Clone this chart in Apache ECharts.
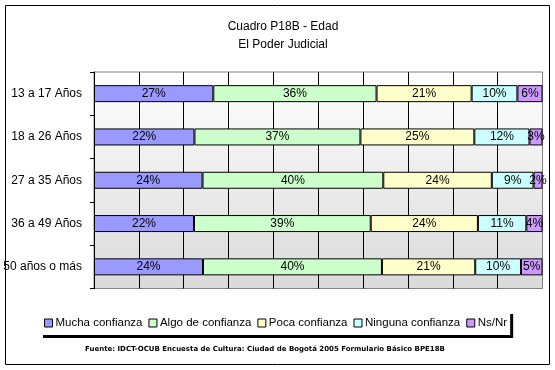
<!DOCTYPE html>
<html>
<head>
<meta charset="utf-8">
<script src="https://cdn.jsdelivr.net/npm/echarts@6/dist/echarts.min.js"></script>
<style>html,body{margin:0;padding:0;background:#fff}#c{width:555px;height:370px}</style>
</head>
<body>
<div id="c"></div>
<script>
var categories = ['13 a 17 Años', '18 a 26 Años', '27 a 35 Años', '36 a 49 Años', '50 años o más'];
var seriesNames = ['Mucha confianza', 'Algo de confianza', 'Poca confianza', 'Ninguna confianza', 'Ns/Nr'];
var mucha   = [26.6, 22.4, 24.2, 22.3, 24.3];
var algo    = [36.4, 37.0, 40.3, 39.4, 39.9];
var poca    = [21.2, 25.4, 24.2, 23.9, 20.8];
var ninguna = [10.2, 12.3, 9.3, 10.8, 10.2];
var nsnr    = [5.6, 2.9, 2.0, 3.6, 4.8];
var colors = ['#9999FF', '#CCFFCC', '#FFFFCC', '#CCFFFF', '#CC99FF'];
var values = [mucha, algo, poca, ninguna, nsnr];

var chart = echarts.init(document.getElementById('c'), null, {renderer: 'canvas'});
var FONT = 'Arial, "Liberation Sans", sans-serif';

var series = values.map(function (v, i) {
  return {
    name: seriesNames[i],
    type: 'bar',
    stack: 'total',
    data: v,
    barWidth: 17,
    itemStyle: {color: colors[i], borderColor: '#000', borderWidth: 1},
    label: {
      show: true, position: 'inside', color: '#000', fontSize: 12, fontFamily: FONT,
      formatter: function (p) { return Math.round(p.value) + '%'; }
    },
    emphasis: {disabled: true}
  };
});

chart.setOption({
  animation: false,
  title: {
    text: 'Cuadro P18B - Edad\nEl Poder Judicial',
    left: 278, top: 13, textAlign: 'center',
    textStyle: {fontSize: 12, fontWeight: 'normal', color: '#000', fontFamily: FONT, lineHeight: 18}
  },
  legend: {
    data: seriesNames,
    left: 40, top: 311,
    padding: [6, 3, 6, 4],
    itemWidth: 8, itemHeight: 8, itemGap: 6,
    icon: 'rect',
    backgroundColor: '#fff',
    shadowColor: '#000', shadowOffsetX: 3, shadowOffsetY: 3, shadowBlur: 0,
    itemStyle: {borderColor: '#000', borderWidth: 1},
    textStyle: {fontSize: 11.5, color: '#000', fontFamily: FONT, padding: [0, 0, 0, -2]}
  },
  grid: {
    left: 94, right: 12.5, top: 72, bottom: 81.5,
    show: true, borderColor: '#808080', borderWidth: 1,
    backgroundColor: {type: 'linear', x: 0, y: 0, x2: 0, y2: 1,
      colorStops: [{offset: 0, color: '#ffffff'}, {offset: 1, color: '#dadada'}]}
  },
  xAxis: {
    type: 'value', min: 0, max: 100, interval: 10,
    axisLabel: {show: false}, axisLine: {show: false}, axisTick: {show: false},
    splitLine: {show: true, showMaxLine: false, lineStyle: {color: '#000', width: 1}}
  },
  yAxis: {
    type: 'category', data: categories, inverse: true,
    axisLine: {show: true, lineStyle: {color: '#000', width: 1}},
    axisTick: {show: true, length: 4, lineStyle: {color: '#000'}},
    axisLabel: {color: '#000', fontSize: 12, fontFamily: FONT, margin: 12}
  },
  series: series,
  graphic: [
    {type: 'rect', shape: {x: 5.5, y: 5.5, width: 544, height: 359}, style: {fill: 'none', stroke: '#000', lineWidth: 1}, silent: true},
    {type: 'text', left: 85, top: 346,
      style: {text: 'Fuente: IDCT-OCUB Encuesta de Cultura: Ciudad de Bogotá 2005 Formulario Básico BPE18B',
        font: 'bold 7px "DejaVu Sans", sans-serif', fill: '#000'}}
  ]
});
</script>
</body>
</html>
